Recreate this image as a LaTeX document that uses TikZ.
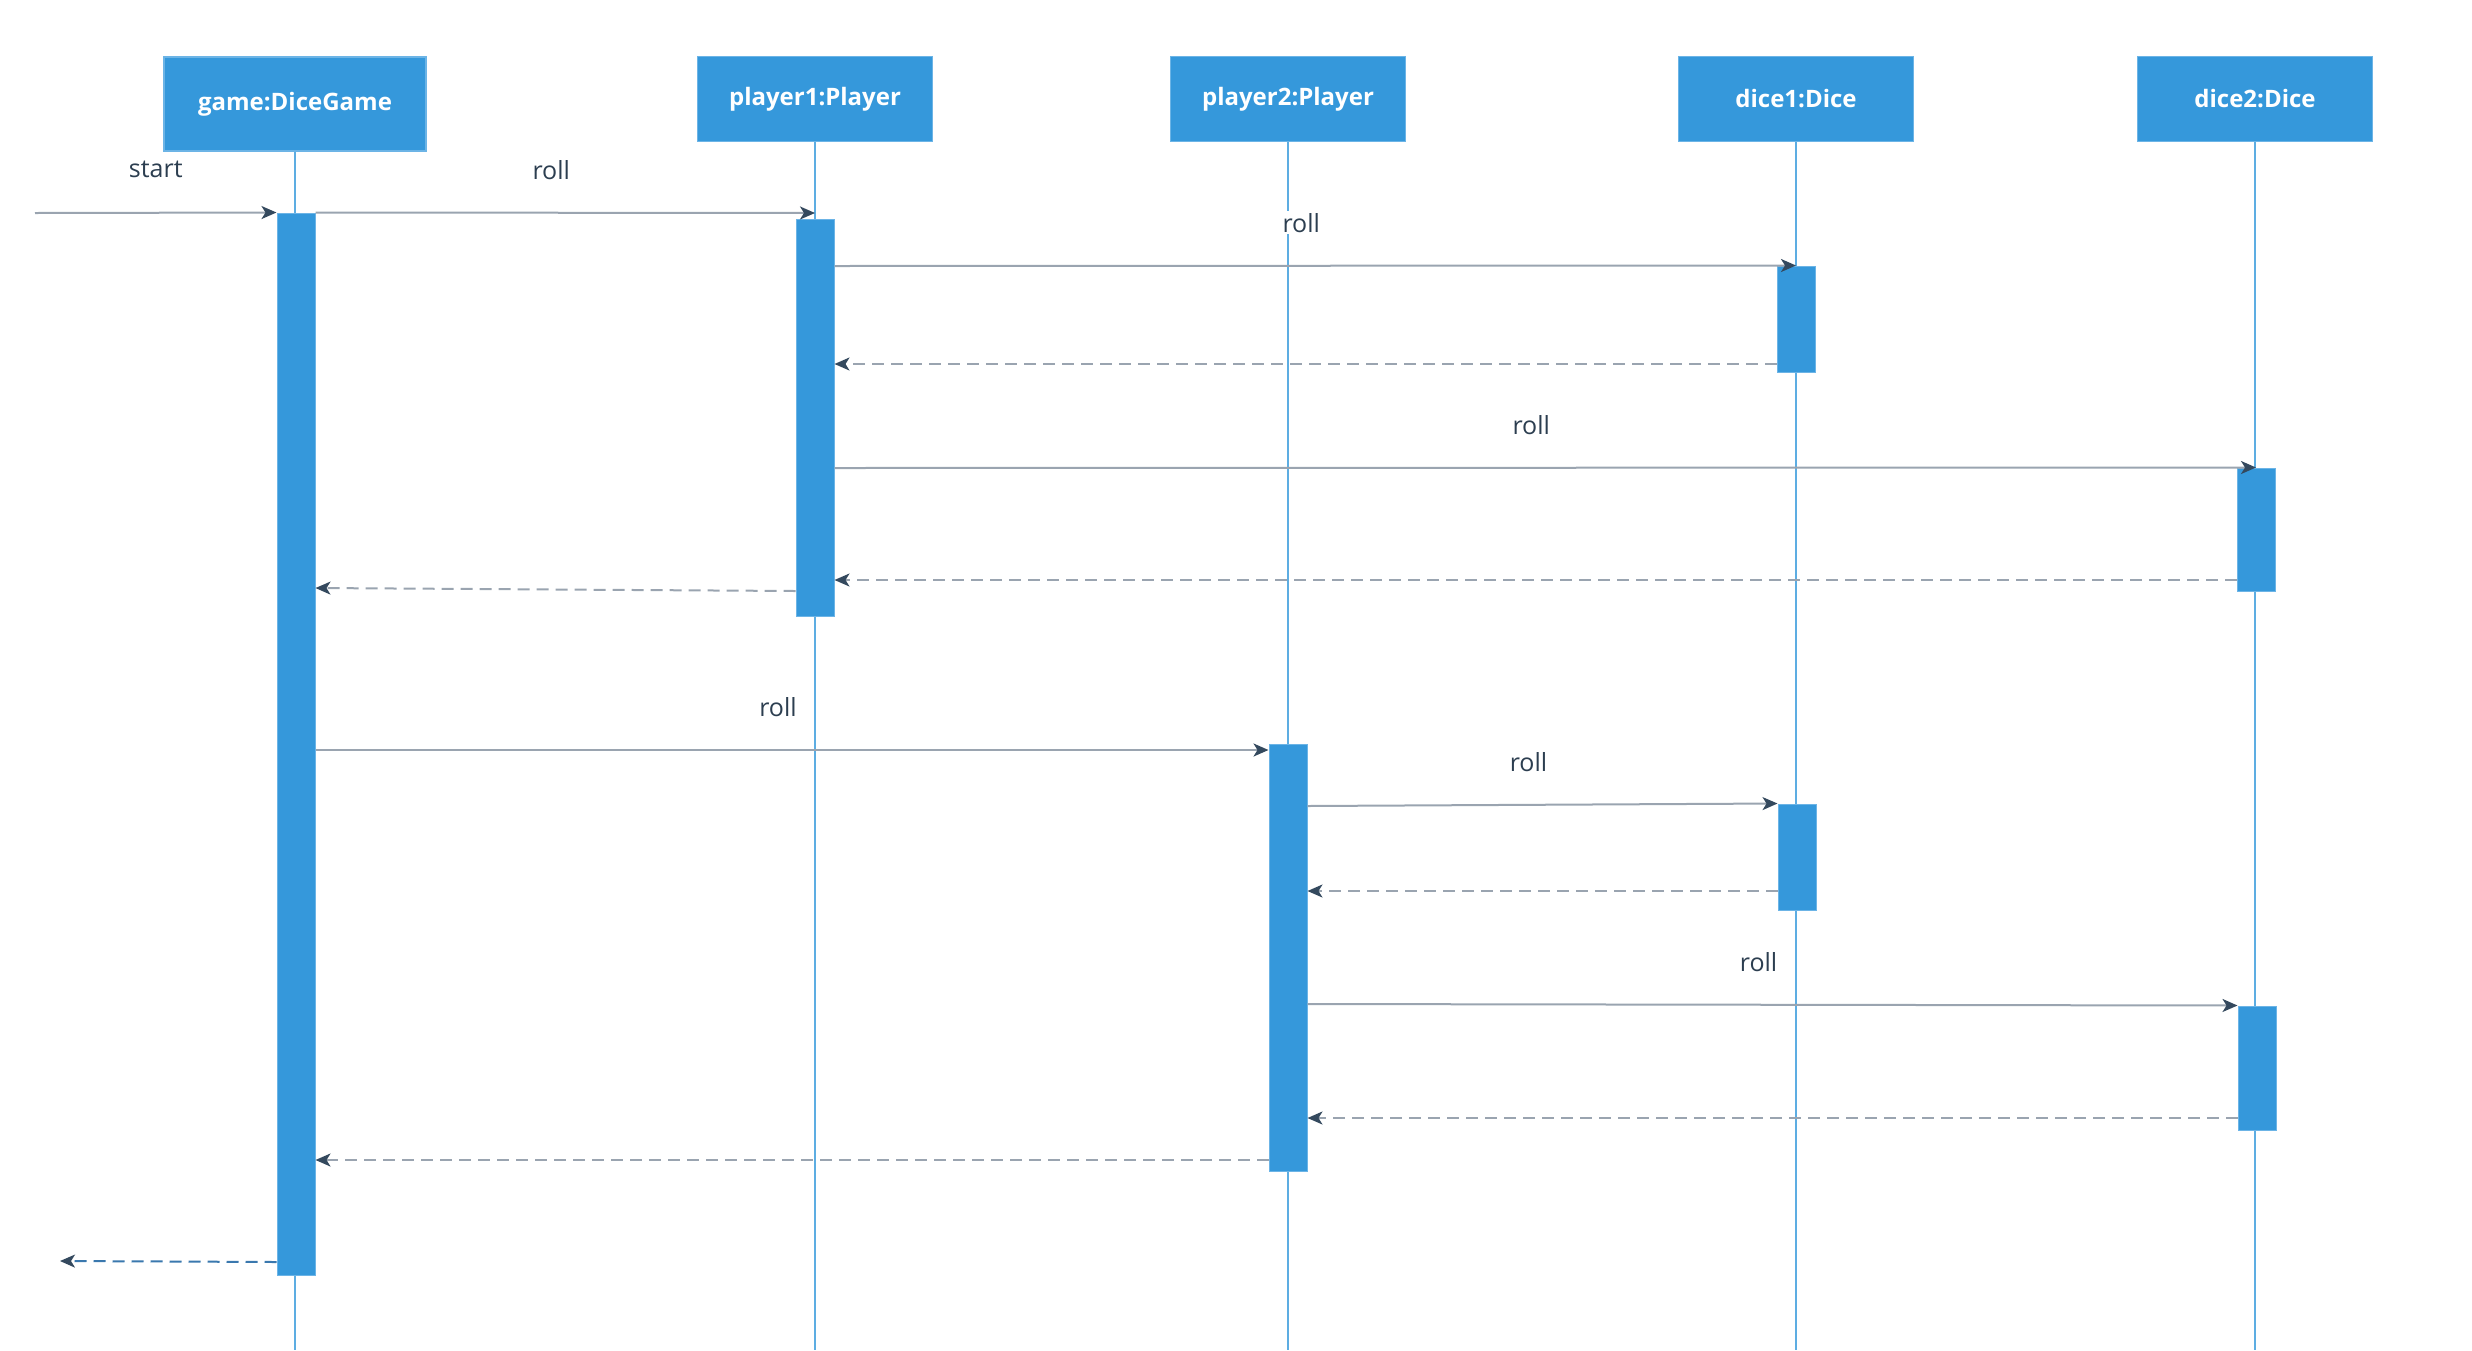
\documentclass[tikz,border=0pt]{standalone}
\usepackage{fontspec}
\setmainfont{Open Sans}
\usetikzlibrary{arrows.meta,positioning,calc}

\definecolor{objblue}{HTML}{3598DB}
\definecolor{objedge}{HTML}{6CB4E6}
\definecolor{lifeblue}{HTML}{5DADE2}
\definecolor{msggray}{HTML}{9AA4B0}
\definecolor{tipdark}{HTML}{34495E}
\definecolor{txtdark}{HTML}{2C3E50}
\definecolor{exitblue}{HTML}{3A78AE}

\begin{document}
\begin{tikzpicture}[x=1pt, y=-1pt,
		object/.style={rectangle, fill=objblue, draw=objedge, line width=1.5pt, text=white, inner sep=0pt,
			font=\fontsize{24}{28}\selectfont\bfseries, minimum width=235pt, minimum height=85pt},
		activation/.style={rectangle, fill=objblue, draw=objedge, line width=1pt, inner sep=0pt, minimum width=38pt},
		lifeline/.style={draw=lifeblue, line width=1.8pt},
		call/.style={draw=msggray, line width=2pt, -{Stealth[length=15pt, width=13pt, inset=4pt, color=tipdark]}},
		reply/.style={call, dash pattern=on 12pt off 7pt},
		lbl/.style={fill=white, text=txtdark, inner sep=2pt, font=\fontsize{25}{30}\selectfont, midway, yshift=43pt}
	]
	\useasboundingbox (0,0) rectangle (2472,1350);

	% objects
	\node (game)    [object, minimum width=262pt, minimum height=94pt] at (295,104) {game:DiceGame};
	\node (player1) [object] at (815,99)  {player1:Player};
	\node (player2) [object] at (1288,99) {player2:Player};
	\node (dice1)   [object] at (1796,99) {dice1:Dice};
	\node (dice2)   [object] at (2255,99) {dice2:Dice};

	% lifelines
	\foreach \obj in {game,player1,player2,dice1,dice2}
		\draw [lifeline] (\obj.south) -- (\obj.south |- 0,1350);

	% activation bars
	\node (gbar)  [activation, minimum height=1062pt] at (296,744) {};
	\node (p1bar) [activation, minimum height=397pt]  at (815,417.5) {};
	\node (p2bar) [activation, minimum height=427pt]  at (1288,957.5) {};
	\node (d1run) [activation, minimum height=106pt]  at (1796,319) {};
	\node (d2run) [activation, minimum height=123pt]  at (2256,529.5) {};
	\node (d1again) [activation, minimum height=106pt] at (1797,857) {};
	\node (d2again) [activation, minimum height=124pt] at (2257,1068) {};

	\coordinate (entry) at (35,213);
	\coordinate (exit)  at (60,1261);

	% first player
	\draw [call] (entry) -- (gbar.north west) node [lbl] {start};
	\draw [call] (gbar.north east) -- (p1bar.north |- 0,213) node [lbl, xshift=-14pt] {roll};
	\draw [call] (p1bar.east |- 0,266) -- (d1run.north) node [lbl, xshift=-14pt] {roll};
	\draw [reply] (d1run.west |- 0,364) -- (p1bar.east |- 0,364);
	\draw [call] (p1bar.east |- 0,468) -- (d2run.north) node [lbl, xshift=-14pt] {roll};
	\draw [reply] (d2run.west |- 0,580) -- (p1bar.east |- 0,580);
	\draw [reply] (p1bar.west |- 0,591) -- (gbar.east |- 0,588);

	% second player
	\draw [call] (gbar.east |- 0,750) -- (p2bar.west |- 0,750) node [lbl, xshift=-14pt] {roll};
	\draw [call] (p2bar.east |- 0,806) -- (d1again.north west) node [lbl, xshift=-14pt] {roll};
	\draw [reply] (d1again.west |- 0,891) -- (p2bar.east |- 0,891);
	\draw [call] (p2bar.east |- 0,1004) -- (d2again.north west) node [lbl, xshift=-14pt] {roll};
	\draw [reply] (d2again.west |- 0,1118) -- (p2bar.east |- 0,1118);
	\draw [reply] (p2bar.west |- 0,1160) -- (gbar.east |- 0,1160);

	\draw [reply, draw=exitblue] (gbar.west |- 0,1262) -- (exit);
\end{tikzpicture}
\end{document}
